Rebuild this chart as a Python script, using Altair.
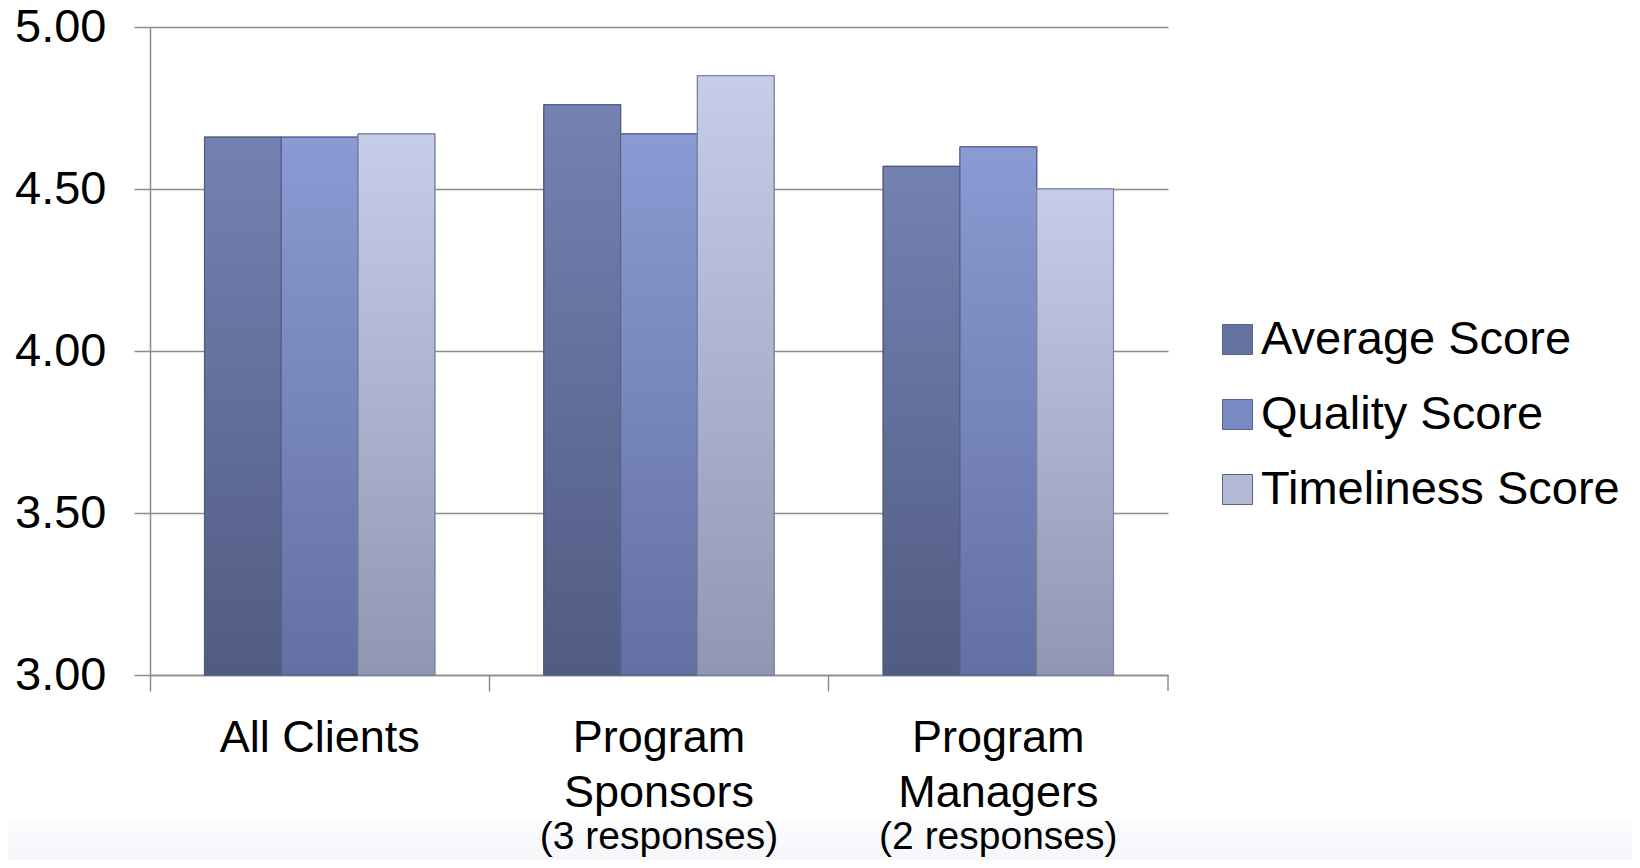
import altair as alt
import pandas as pd

categories = ["All Clients", "Program|Sponsors", "Program|Managers"]
notes = ["", "(3 responses)", "(2 responses)"]
series = ["Average Score", "Quality Score", "Timeliness Score"]
average = [4.66, 4.76, 4.57]
quality = [4.66, 4.67, 4.63]
timeliness = [4.67, 4.85, 4.50]
y_ticks = [3.0, 3.5, 4.0, 4.5, 5.0]

rows = []
for i, c in enumerate(categories):
    for s, vals in zip(series, [average, quality, timeliness]):
        rows.append({"category": c, "series": s, "value": vals[i], "base": 3.0})
df = pd.DataFrame(rows)
notes_df = pd.DataFrame({"category": categories, "note": notes})

solid = ["#6472a0", "#7a8bc4", "#b3bad6"]
grads = [
    ("#7382b2", "#515c82"),
    ("#8a9bd3", "#6370a3"),
    ("#c6cde8", "#9097b3"),
]
stroke_col = ["#4e5878", "#56628f", "#7d849e"]

W, H = 1018, 648
FONT = "Liberation Sans"

# faint slide background band at the bottom
bg = alt.Chart(notes_df.head(1)).mark_rect(
    fill=alt.Gradient(gradient="linear",
                      stops=[alt.GradientStop(color="#fafbfd", offset=0),
                             alt.GradientStop(color="#f3f5fa", offset=1)],
                      x1=0, x2=0, y1=0, y2=1)
).encode(x=alt.value(-160), x2=alt.value(W + 480), y=alt.value(H + 145), y2=alt.value(H + 200))

x_enc = alt.X("category:N", sort=categories,
              scale=alt.Scale(paddingInner=0, paddingOuter=0),
              axis=alt.Axis(title=None, labelExpr="split(datum.label, '|')",
                            labelFontSize=45, labelFont=FONT, labelColor="#000",
                            labelLineHeight=55, labelPadding=24, labelAngle=0,
                            labelLimit=500,
                            tickSize=16, tickColor="#8c8c8c", tickWidth=1.5,
                            bandPosition=0, domainColor="#8c8c8c", domainWidth=1.5,
                            labelBaseline="top"))
xo_enc = alt.XOffset("series:N", sort=series,
                     scale=alt.Scale(domain=series, paddingInner=0, paddingOuter=0.71))
y_enc = alt.Y("value:Q", scale=alt.Scale(domain=[3, 5], nice=False, zero=False),
              axis=alt.Axis(title=None, values=y_ticks, format=".2f",
                            labelFontSize=47, labelFont=FONT, labelColor="#000",
                            labelPadding=28, tickSize=16, tickColor="#8c8c8c",
                            tickWidth=1.5, domainColor="#8c8c8c", domainWidth=1.5,
                            gridColor="#8c8c8c", gridWidth=1.5))

base = alt.Chart(df).mark_bar(stroke="#555f80", strokeWidth=1).encode(
    x=x_enc, xOffset=xo_enc, y=y_enc, y2=alt.Y2("base:Q"),
    color=alt.Color("series:N", sort=series,
                    scale=alt.Scale(domain=series, range=solid),
                    legend=alt.Legend(title=None, orient="none", legendX=1064, legendY=289,
                                      symbolType="square", symbolSize=900,
                                      symbolStrokeColor="#5a6384", symbolStrokeWidth=1,
                                      labelFontSize=47, labelFont=FONT, labelColor="#000",
                                      labelOffset=0, rowPadding=27, labelLimit=500)),
)

layers = [bg, base]
for s, (top, bot), sc in zip(series, grads, stroke_col):
    g = alt.Gradient(gradient="linear",
                     stops=[alt.GradientStop(color=top, offset=0),
                            alt.GradientStop(color=bot, offset=1)],
                     x1=0, x2=0, y1=0, y2=1)
    layers.append(
        alt.Chart(df).transform_filter(alt.datum.series == s)
        .mark_bar(fill=g, stroke=sc, strokeWidth=1.2)
        .encode(x=alt.X("category:N", sort=categories), xOffset=alt.XOffset("series:N", sort=series),
                y=alt.Y("value:Q"), y2=alt.Y2("base:Q"))
    )

note_layer = alt.Chart(notes_df).mark_text(
    fontSize=39, font=FONT, color="#000", baseline="top", align="center"
).encode(x=alt.X("category:N", sort=categories, bandPosition=0.5),
         y=alt.value(H + 143), text="note:N")

right_tick = alt.Chart(notes_df.head(1)).mark_rule(color="#8c8c8c", strokeWidth=1.5).encode(
    x=alt.value(W), y=alt.value(H), y2=alt.value(H + 16))

chart = alt.layer(*layers, note_layer, right_tick).properties(
    width=W, height=H,
    padding={"left": 142, "top": 19, "right": 464, "bottom": 185},
    autosize="none",
    background="white",
).configure_view(stroke=None)

chart.save("out.html", embed_options={"renderer": "svg", "actions": False})
